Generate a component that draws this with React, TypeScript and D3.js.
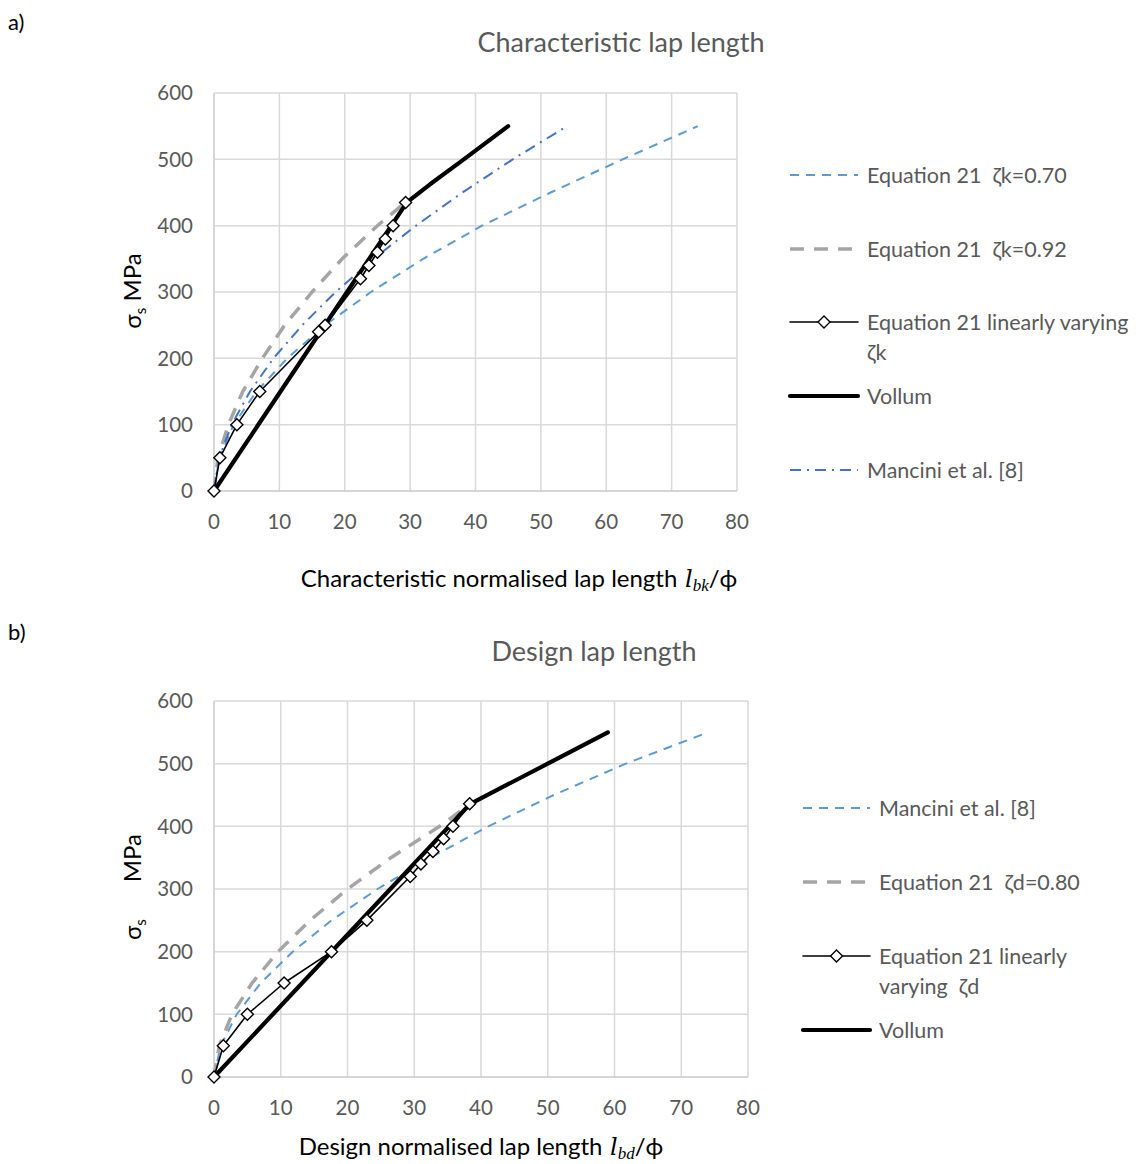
import React from "react";
import * as d3 from "d3";

type P = [number, number];

// ---------- Data ----------
const xTicks = [0, 10, 20, 30, 40, 50, 60, 70, 80];
const yTicks = [0, 100, 200, 300, 400, 500, 600];

// Chart a) characteristic
const eq21k070: P[] = [[0,0],[0.8,50],[3,100],[6.5,150],[11.2,200],[17,250],[24,300],[32,350],[41,400],[51.5,450],[62.5,500],[74,550]];
const eq21k092: P[] = [[0,0],[0.6,50],[2.2,100],[4.4,150],[7.4,200],[10.8,250],[15,300],[19.6,350],[25,400],[29.3,435]];
const linVarK: P[] = [[0,0],[0.9,50],[3.5,100],[7,150],[16,240],[17,250],[22.4,320],[23.7,340],[25,360],[26.2,380],[27.4,400],[29.3,435]];
const vollumK: P[] = [[0,0],[29.5,435],[33,462],[37.8,497],[45,550]];
const manciniK: P[] = [[0,0],[0.8,50],[2.7,100],[5.5,150],[9.1,200],[13.5,250],[18.6,300],[24.4,350],[30.9,400],[38,450],[45.7,500],[54,550]];

// Chart b) design
const manciniD: P[] = [[0,0],[1,50],[3.4,100],[7,150],[11.8,200],[17.6,250],[24.5,300],[32.4,350],[41.1,400],[50.9,450],[61.7,500],[74,550]];
const eq21d080: P[] = [[0,0],[0.8,50],[2.7,100],[5.7,150],[9.6,200],[14.4,250],[20,300],[26.5,350],[33.8,400],[38.4,436]];
const linVarD: P[] = [[0,0],[1.4,50],[5,100],[10.5,150],[17.6,200],[22.9,250],[29.4,320],[31,340],[32.8,360],[34.4,380],[35.8,400],[38.3,436]];
const vollumD: P[] = [[0,0],[38.4,436],[50,500],[59,550]];

// ---------- Styles ----------
const FONT = "Lato, 'Open Sans', sans-serif";
const GRAY_TEXT = "#595959";
const GRID = "#d9d9d9";

type Style = { stroke: string; width: number; dash?: string; marker?: boolean };
const S_LBLUE: Style = { stroke: "#5B9BD5", width: 2, dash: "9,7" };
const S_GREY: Style = { stroke: "#A5A5A5", width: 3.5, dash: "14,10" };
const S_THIN: Style = { stroke: "#000", width: 1.6, marker: true };
const S_THICK: Style = { stroke: "#000", width: 4.2 };
const S_DASHDOT: Style = { stroke: "#4472C4", width: 2, dash: "11,6,2,6" };

type Series = { data: P[]; style: Style };
type LegendItem = { style: Style; lines: string[]; y: number };

function Diamond({ x, y, r = 6 }: { x: number; y: number; r?: number }) {
  return (
    <path
      d={`M${x},${y - r}L${x + r},${y}L${x},${y + r}L${x - r},${y}Z`}
      fill="#fff"
      stroke="#000"
      strokeWidth={1.4}
    />
  );
}

function Chart(props: {
  x0: number; x1: number; y0: number; y1: number;
  series: Series[];
  legend: LegendItem[];
  legX0: number; legX1: number;
  title: string; titleX: number; titleY: number;
  xLabelMain: string; xSub: string; xLabelX: number; xLabelY: number;
  yLabelX: number; yLabelY: number; yGap: string;
  tag: string; tagY: number;
}) {
  const x = d3.scaleLinear().domain([0, 80]).range([props.x0, props.x1]);
  const y = d3.scaleLinear().domain([0, 600]).range([props.y0, props.y1]);
  const line = d3.line<P>().x((d) => x(d[0])).y((d) => y(d[1]));
  return (
    <g>
      <text x={8} y={props.tagY} fontFamily={FONT} fontSize={22} fill="#000">{props.tag}</text>
      <text x={props.titleX} y={props.titleY} textAnchor="middle" fontFamily={FONT} fontSize={27} fill={GRAY_TEXT}>{props.title}</text>
      {/* grid */}
      {xTicks.map((t) => (
        <line key={"gx" + t} x1={x(t)} x2={x(t)} y1={y(0)} y2={y(600)} stroke={t === 0 ? "#c8c8c8" : GRID} strokeWidth={1.5} />
      ))}
      {yTicks.map((t) => (
        <line key={"gy" + t} x1={x(0)} x2={x(80)} y1={y(t)} y2={y(t)} stroke={t === 0 ? "#c8c8c8" : GRID} strokeWidth={1.5} />
      ))}
      {/* tick labels */}
      {yTicks.map((t) => (
        <text key={"ty" + t} x={x(0) - 21} y={y(t)} dy="0.35em" textAnchor="end" fontFamily={FONT} fontSize={20.5} fill={GRAY_TEXT}>{t}</text>
      ))}
      {xTicks.map((t) => (
        <text key={"tx" + t} x={x(t)} y={y(0) + 31} dy="0.35em" textAnchor="middle" fontFamily={FONT} fontSize={20.5} fill={GRAY_TEXT}>{t}</text>
      ))}
      {/* series */}
      {props.series.map((s, i) => (
        <g key={"s" + i}>
          <path d={line(s.data) || ""} fill="none" stroke={s.style.stroke} strokeWidth={s.style.width} strokeDasharray={s.style.dash} strokeLinejoin="round" strokeLinecap={s.style.dash ? "butt" : "round"} />
          {s.style.marker && s.data.map((d, j) => <Diamond key={j} x={x(d[0])} y={y(d[1])} />)}
        </g>
      ))}
      {/* y label */}
      <text transform={`translate(${props.yLabelX},${props.yLabelY}) rotate(-90)`} textAnchor="middle" fontFamily={FONT} fontSize={24} fill="#000" style={{ whiteSpace: "pre" }}>
        σ<tspan fontSize={15} dy={5}>s</tspan><tspan dy={-5}>{props.yGap}MPa</tspan>
      </text>
      {/* x label */}
      <text x={props.xLabelX} y={props.xLabelY} textAnchor="middle" fontFamily={FONT} fontSize={24} fill="#000">
        {props.xLabelMain}
        <tspan fontFamily="'DejaVu Serif', 'Liberation Serif', serif" fontStyle="italic" fontSize={24}> l</tspan>
        <tspan fontFamily="'Liberation Serif', serif" fontStyle="italic" fontSize={17} dy={4}>{props.xSub}</tspan>
        <tspan dy={-4}>/ϕ</tspan>
      </text>
      {/* legend */}
      {props.legend.map((l, i) => (
        <g key={"l" + i}>
          <line x1={props.legX0} x2={props.legX1} y1={l.y} y2={l.y} stroke={l.style.stroke} strokeWidth={l.style.width} strokeDasharray={l.style.dash} strokeLinecap={l.style.dash ? "butt" : "round"} />
          {l.style.marker && <Diamond x={(props.legX0 + props.legX1) / 2} y={l.y} r={6} />}
          {l.lines.map((t, k) => (
            <text key={k} x={props.legX1 + 9} y={l.y + k * 30} dy="0.35em" fontFamily={FONT} fontSize={21.5} fill={GRAY_TEXT} style={{ whiteSpace: "pre" }}>{t}</text>
          ))}
        </g>
      ))}
    </g>
  );
}

export default function App() {
  return (
    <svg width={1141} height={1164} style={{ position: "absolute", left: 0, top: 0, background: "#fff" }}>
      <rect width={1141} height={1164} fill="#fff" />
      <Chart
        x0={214} x1={737} y0={491} y1={93}
        series={[
          { data: eq21k070, style: S_LBLUE },
          { data: eq21k092, style: S_GREY },
          { data: manciniK, style: S_DASHDOT },
          { data: vollumK, style: S_THICK },
          { data: linVarK, style: S_THIN },
        ]}
        legend={[
          { style: S_LBLUE, lines: ["Equation 21  ζk=0.70"], y: 175 },
          { style: S_GREY, lines: ["Equation 21  ζk=0.92"], y: 249 },
          { style: S_THIN, lines: ["Equation 21 linearly varying", "ζk"], y: 322 },
          { style: S_THICK, lines: ["Vollum"], y: 396 },
          { style: S_DASHDOT, lines: ["Mancini et al. [8]"], y: 470 },
        ]}
        legX0={790} legX1={858}
        title="Characteristic lap length" titleX={621} titleY={52}
        xLabelMain="Characteristic normalised lap length" xSub="bk" xLabelX={519} xLabelY={587}
        yLabelX={141} yLabelY={291} yGap=" "
        tag="a)" tagY={30}
      />
      <Chart
        x0={214} x1={748} y0={1077} y1={701}
        series={[
          { data: manciniD, style: S_LBLUE },
          { data: eq21d080, style: S_GREY },
          { data: vollumD, style: S_THICK },
          { data: linVarD, style: S_THIN },
        ]}
        legend={[
          { style: S_LBLUE, lines: ["Mancini et al. [8]"], y: 808 },
          { style: S_GREY, lines: ["Equation 21  ζd=0.80"], y: 882 },
          { style: S_THIN, lines: ["Equation 21 linearly", "varying  ζd"], y: 956 },
          { style: S_THICK, lines: ["Vollum"], y: 1030 },
        ]}
        legX0={803} legX1={870}
        title="Design lap length" titleX={594} titleY={661}
        xLabelMain="Design normalised lap length" xSub="bd" xLabelX={481} xLabelY={1155}
        yLabelX={141} yLabelY={887} yGap="      "
        tag="b)" tagY={640}
      />
    </svg>
  );
}
